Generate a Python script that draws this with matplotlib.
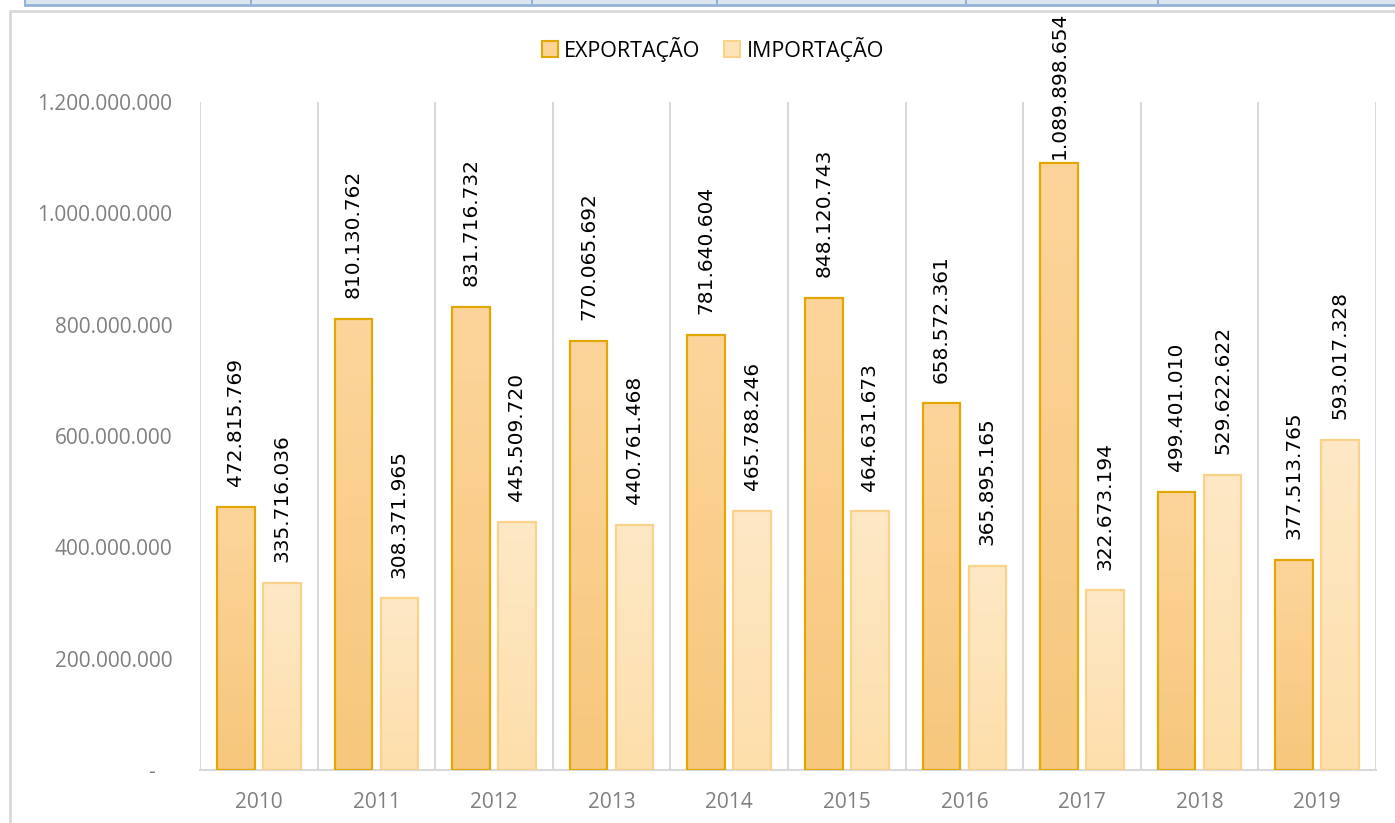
import numpy as np
import matplotlib
matplotlib.use('Agg')
from matplotlib import pyplot as plt
from matplotlib.colors import LinearSegmentedColormap
from matplotlib.patches import Patch, Rectangle
from matplotlib.lines import Line2D
from matplotlib.ticker import FuncFormatter

# dados
anos = ['2010', '2011', '2012', '2013', '2014', '2015', '2016', '2017', '2018', '2019']
exportacao = [472815769, 810130762, 831716732, 770065692, 781640604,
              848120743, 658572361, 1089898654, 499401010, 377513765]
importacao = [335716036, 308371965, 445509720, 440761468, 465788246,
              464631673, 365895165, 322673194, 529622622, 593017328]

W, H = 1395, 823
fig = plt.figure(figsize=(W / 100, H / 100), dpi=100)
ax = fig.add_axes([200 / W, 1 - 770 / H, (1376 - 200) / W, (770 - 102) / H])

x = np.arange(len(anos))
larg = 0.32


def barra_gradiente(ax, bar, cor_topo, cor_base):
    bx, by = bar.get_x(), bar.get_y()
    bw, bh = bar.get_width(), bar.get_height()
    grad = np.linspace(0, 1, 256).reshape(-1, 1)
    cmap = LinearSegmentedColormap.from_list('g', [cor_base, cor_topo])
    im = ax.imshow(grad, extent=[bx, bx + bw, by, by + bh], origin='lower',
                   cmap=cmap, aspect='auto', zorder=2.5)
    im.set_clip_path(bar)


bars_exp = ax.bar(x - 0.195, exportacao, larg, facecolor='none',
                  edgecolor='#e2a703', linewidth=1.6, zorder=3)
bars_imp = ax.bar(x + 0.195, importacao, larg, facecolor='none',
                  edgecolor='#fbd28a', linewidth=1.6, zorder=3)

for b in bars_exp:
    barra_gradiente(ax, b, '#fdd59c', '#f6c77c')
for b in bars_imp:
    barra_gradiente(ax, b, '#fee8c6', '#fddfab')


def fmt(v):
    return f'{v:,}'.replace(',', '.')


rotulos = []
for bars, vals in ((bars_exp, exportacao), (bars_imp, importacao)):
    for b, v in zip(bars, vals):
        t = ax.annotate(fmt(v), (b.get_x() + b.get_width() / 2, v),
                        xytext=(0, 15), textcoords='offset points',
                        rotation=90, ha='center', va='bottom',
                        fontsize=14.5, family='DejaVu Sans', color='#000000')
        rotulos.append(t)

ax.set_xlim(-0.5, len(anos) - 0.5)
ax.set_ylim(0, 1.2e9)

ax.set_xticks(x)
ax.set_xticklabels(anos)
ax.set_xticks(np.arange(-0.5, len(anos), 1), minor=True)
ax.grid(True, which='minor', axis='x', color='#d9d9d9', linewidth=1.5, zorder=0)
ax.tick_params(axis='x', which='both', length=0, pad=16)
ax.tick_params(axis='y', length=0, pad=20)

ax.set_yticks(np.arange(0, 1.2e9 + 1, 2e8))
ax.yaxis.set_major_formatter(FuncFormatter(lambda v, p: '-   ' if v == 0 else fmt(int(v))))
for lab in ax.get_xticklabels() + ax.get_yticklabels():
    lab.set_family('Open Sans')
    lab.set_fontsize(15)
    lab.set_color('#7f7f7f')

for s in ('top', 'left', 'right'):
    ax.spines[s].set_visible(False)
ax.spines['bottom'].set_color('#d9d9d9')
ax.spines['bottom'].set_linewidth(1.5)

handles = [Patch(facecolor='#fbd394', edgecolor='#e2a703', linewidth=1.5, label='EXPORTAÇÃO'),
           Patch(facecolor='#fee3b8', edgecolor='#fbd28a', linewidth=1.5, label='IMPORTAÇÃO')]
fig.legend(handles=handles, loc='center', bbox_to_anchor=(713 / W, 1 - 49 / H), ncol=2,
           frameon=False, prop={'family': 'Open Sans', 'size': 15.5},
           handlelength=0.75, handleheight=0.75, handletextpad=0.3, columnspacing=1.1)

# moldura do gráfico e faixa da planilha
fig.patches.append(Rectangle((10 / W, -0.1), 1.2, 1 - 11 / H + 0.1, transform=fig.transFigure,
                             facecolor='none', edgecolor='#d9d9d9', linewidth=2, zorder=0))
fig.patches.append(Rectangle((25 / W, 1 - 4.5 / H), 1.0, 4.5 / H, transform=fig.transFigure,
                             facecolor='#dce6f1', edgecolor='none', zorder=0))
fig.lines.append(Line2D([25 / W, 1], [1 - 5 / H, 1 - 5 / H], transform=fig.transFigure,
                        color='#95b3d7', linewidth=2))
for xd in (25, 251, 532, 717, 966, 1158):
    fig.lines.append(Line2D([xd / W, xd / W], [1 - 5 / H, 1], transform=fig.transFigure,
                            color='#95b3d7', linewidth=1.5))

# como no Excel: rótulo que passa do topo desce para dentro da área
fig.canvas.draw()
r = fig.canvas.get_renderer()
limite = H - 18
for t in rotulos:
    bb = t.get_window_extent(r)
    if bb.y1 > limite:
        excesso = (bb.y1 - limite) * 72 / fig.dpi
        t.set_position((0, max(15 - excesso, 3)))

fig.savefig('out.png', dpi=100)
